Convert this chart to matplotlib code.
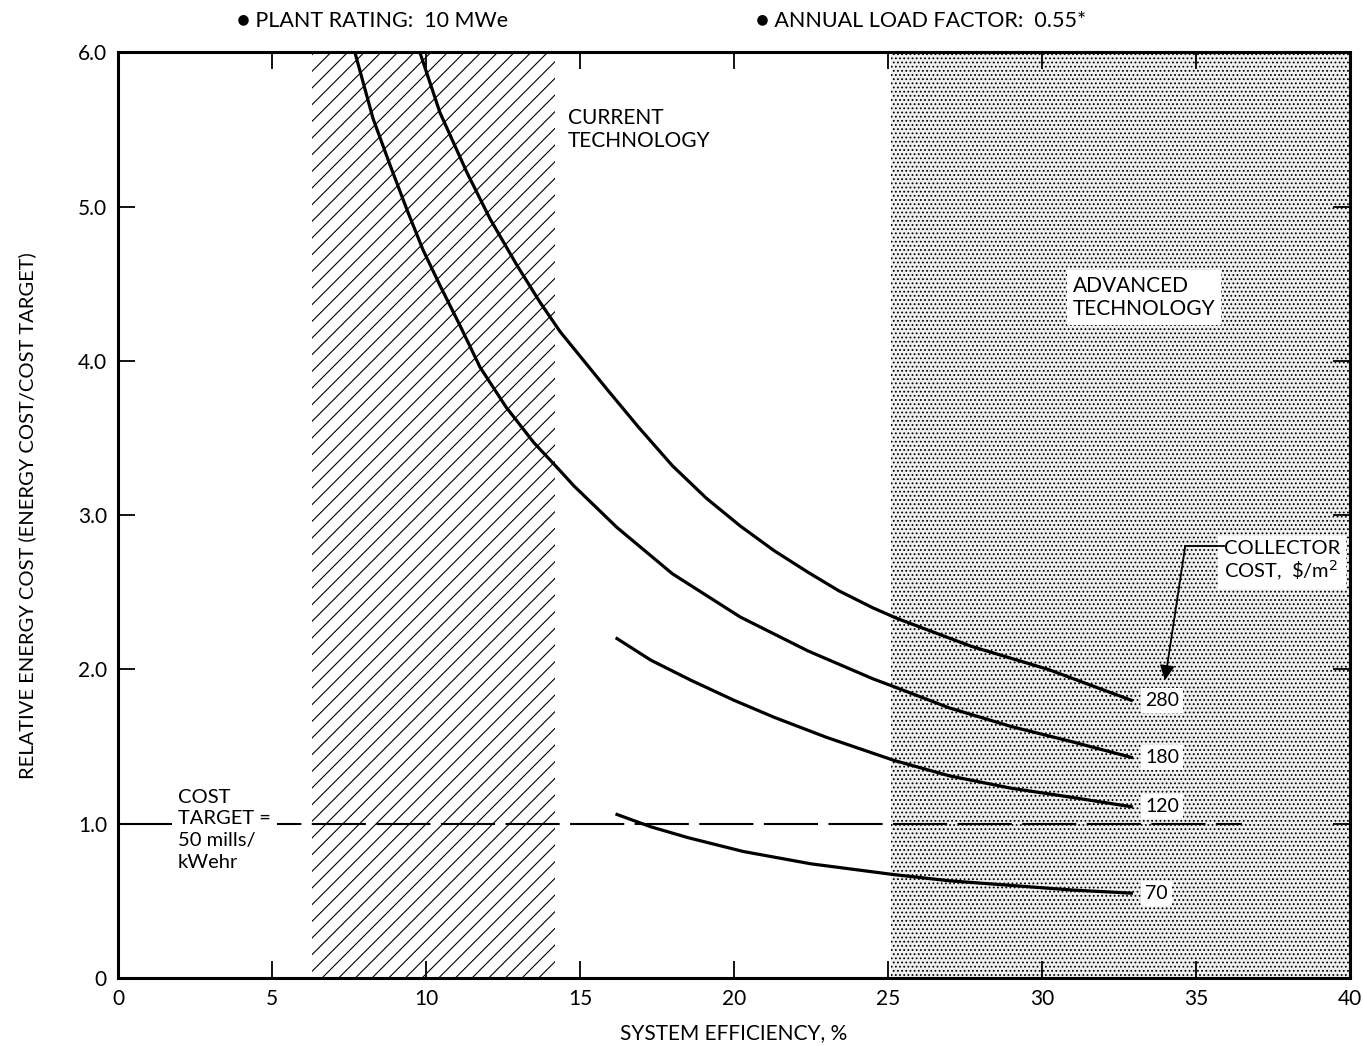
import matplotlib
matplotlib.use("Agg")
import matplotlib.pyplot as plt
from matplotlib.patches import Rectangle

plt.rcParams['font.family'] = ['Lato', 'DejaVu Sans']
plt.rcParams['hatch.linewidth'] = 0.8

# courbes (rendement %, coût relatif)
x_280 = [9.8, 10.45, 11.33, 12.08, 12.95, 13.7, 14.35, 15.9, 16.9, 18.0, 19.1, 20.2,
         21.3, 22.4, 23.4, 24.5, 25.3, 27.7, 30.2, 32.9]
y_280 = [6.0, 5.61, 5.22, 4.92, 4.62, 4.38, 4.19, 3.81, 3.57, 3.32, 3.11, 2.93,
         2.77, 2.63, 2.51, 2.40, 2.33, 2.15, 2.00, 1.80]

x_180 = [7.69, 8.28, 8.83, 9.38, 9.9, 10.45, 11.1, 11.75, 12.6, 13.5, 14.25, 14.8,
         16.2, 18.0, 20.2, 22.4, 24.5, 25.3, 27.0, 29.0, 31.0, 32.9]
y_180 = [6.0, 5.57, 5.27, 4.98, 4.72, 4.49, 4.23, 3.96, 3.70, 3.47, 3.31, 3.19,
         2.92, 2.62, 2.34, 2.12, 1.94, 1.88, 1.75, 1.63, 1.53, 1.43]

x_120 = [16.2, 17.3, 18.6, 20.0, 21.3, 23.0, 25.2, 27.0, 29.0, 31.0, 32.9]
y_120 = [2.20, 2.06, 1.93, 1.80, 1.69, 1.56, 1.41, 1.31, 1.23, 1.17, 1.11]

x_70 = [16.2, 17.3, 18.5, 20.3, 22.5, 25.2, 27.0, 29.0, 31.0, 32.9]
y_70 = [1.06, 0.98, 0.91, 0.82, 0.74, 0.67, 0.63, 0.60, 0.57, 0.55]

curves = [(x_280, y_280, "280"), (x_180, y_180, "180"),
          (x_120, y_120, "120"), (x_70, y_70, "70")]

current_tech = (6.3, 14.2)
advanced_tech = (25.1, 40.0)
cost_target = 1.0

x_ticks = [0, 5, 10, 15, 20, 25, 30, 35, 40]
y_ticks = [0, 1, 2, 3, 4, 5, 6]
y_tick_labels = ["0", "1.0", "2.0", "3.0", "4.0", "5.0", "6.0"]

fig = plt.figure(figsize=(13.63, 10.46), dpi=100)
ax = fig.add_axes([0.0866, 0.065, 0.9039, 0.885])
ax.set_xlim(0, 40)
ax.set_ylim(0, 6)

# zones hachurée / pointillée
ax.add_patch(Rectangle((current_tech[0], 0), current_tech[1] - current_tech[0], 6,
                       facecolor='white', edgecolor='black', hatch='//', linewidth=0, zorder=1))
ax.add_patch(Rectangle((advanced_tech[0], 0), advanced_tech[1] - advanced_tech[0], 6,
                       facecolor='#f0f0f0', edgecolor='black', hatch='....', linewidth=0, zorder=1))

# objectif de coût
ax.plot([0, 36.5], [cost_target, cost_target], color='black', lw=1.5,
        linestyle=(0, (26, 5)), zorder=2)

for xs, ys, lab in curves:
    ax.plot(xs, ys, color='black', lw=2.3, zorder=3, solid_joinstyle='round')
    ax.text(xs[-1] + 0.45, ys[-1], lab, fontsize=14, va='center', ha='left', zorder=4,
            bbox=dict(facecolor='white', edgecolor='none', pad=3))

box = dict(facecolor='white', edgecolor='none', pad=4)
ax.text(14.6, 5.50, "CURRENT\nTECHNOLOGY", fontsize=15, va='center', ha='left',
        linespacing=1.2, zorder=4, bbox=box)
ax.text(31.0, 4.41, "ADVANCED\nTECHNOLOGY", fontsize=15, va='center', ha='left',
        linespacing=1.2, zorder=4, bbox=box)
ax.text(1.95, 0.96, "COST\nTARGET =\n50 mills/\nkWehr", fontsize=14.5, va='center', ha='left',
        linespacing=1.35, zorder=4, bbox=box)
ax.text(35.9, 2.70, "COLLECTOR\nCOST,  \\$/m$^2$", fontsize=14.5, va='center', ha='left',
        linespacing=1.1, zorder=4, bbox=box)

# flèche vers les étiquettes
ax.plot([35.9, 34.65], [2.80, 2.80], color='black', lw=1.3, zorder=4)
ax.annotate("", xy=(33.99, 1.93), xytext=(34.65, 2.80),
            arrowprops=dict(arrowstyle='-|>', color='black', lw=1.3,
                            mutation_scale=22, shrinkA=0, shrinkB=0), zorder=4)

ax.set_xticks(x_ticks)
ax.set_yticks(y_ticks)
ax.set_yticklabels(y_tick_labels)
ax.tick_params(direction='in', length=12, width=1.3, top=True, right=True,
               labelsize=15, pad=8)
for s in ax.spines.values():
    s.set_linewidth(2.2)

ax.set_xlabel("SYSTEM EFFICIENCY, %", fontsize=15, labelpad=10)
ax.set_ylabel("RELATIVE ENERGY COST (ENERGY COST/COST TARGET)", fontsize=14.5, labelpad=30)

fig.text(0.174, 0.980, "\u25cf PLANT RATING:  10 MWe", fontsize=15.5, va='center', ha='left')
fig.text(0.555, 0.980, "\u25cf ANNUAL LOAD FACTOR:  0.55*", fontsize=15.5, va='center', ha='left')

fig.savefig("out.png", dpi=100)
